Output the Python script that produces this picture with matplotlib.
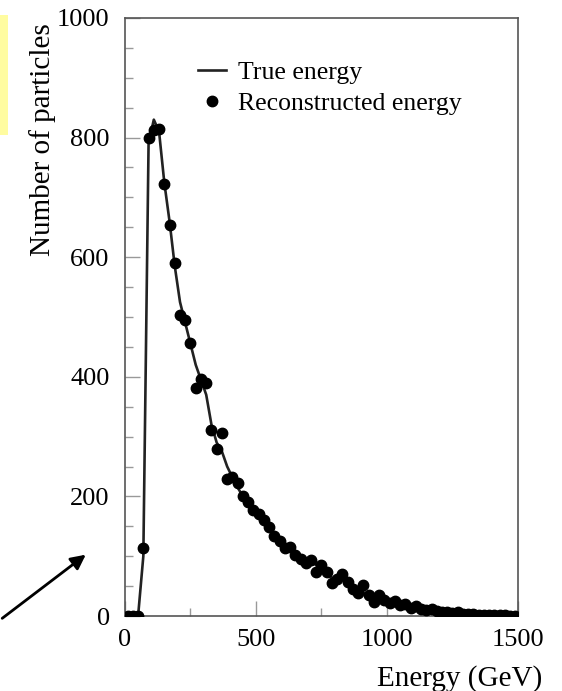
import numpy as np
import matplotlib
matplotlib.use('Agg')
import matplotlib.pyplot as plt
from matplotlib.patches import Rectangle, FancyArrowPatch

plt.rcParams['font.family'] = ['Liberation Serif', 'DejaVu Serif']

# bin centres (GeV), 20 GeV bins
energy = np.arange(10, 1500, 20)

# reconstructed energy (points)
reco = [0, 0, 0, 113, 800, 812, 815, 722, 653, 590,
        503, 495, 457, 382, 397, 389, 311, 279, 306, 229,
        232, 222, 201, 190, 178, 170, 160, 149, 133, 125,
        113, 116, 102, 95, 88, 94, 74, 85, 74, 55,
        62, 71, 57, 46, 38, 52, 35, 24, 35, 27,
        22, 25, 18, 20, 14, 16, 12, 10, 12, 8,
        7, 6, 5, 6, 4, 3, 3, 2, 2, 2,
        1, 1, 1, 0, 0]

# true energy (line)
true = [0, 0, 0, 100, 790, 830, 810, 725, 660, 585,
        525, 490, 455, 420, 395, 370, 320, 290, 275, 250,
        232, 215, 200, 188, 175, 165, 155, 146, 136, 126,
        118, 110, 103, 97, 92, 95, 85, 80, 72, 64,
        58, 62, 55, 48, 42, 40, 34, 30, 28, 26,
        24, 22, 20, 18, 16, 14, 12, 11, 10, 8,
        7, 6, 5, 5, 4, 3, 3, 2, 2, 2,
        1, 1, 1, 0, 0]

fig = plt.figure(figsize=(5.62, 6.91), dpi=100)
ax = fig.add_axes([0.2224, 0.1085, 0.6993, 0.8655])

ax.plot(energy, true, color='#222222', lw=1.9, label='True energy', zorder=2)
ax.plot(energy, reco, 'o', color='black', ms=7.5, label='Reconstructed energy', zorder=3)

ax.set_xlim(0, 1500)
ax.set_ylim(0, 1000)
ax.set_xticks([0, 500, 1000, 1500])
ax.set_xticks(np.arange(0, 1501, 250), minor=True)
ax.set_yticks([0, 200, 400, 600, 800, 1000])
ax.set_yticks(np.arange(0, 1001, 50), minor=True)
ax.tick_params(which='both', direction='in', top=False, right=False, color='#999999', labelsize=19)
ax.tick_params(which='major', length=11, width=1)
ax.tick_params(which='minor', length=6, width=1)
ax.tick_params(axis='y', pad=11)
ax.tick_params(axis='x', pad=9)
for s in ax.spines.values():
    s.set_color('#555555')
    s.set_linewidth(1.2)

ax.set_xlabel('Energy (GeV)', fontsize=21)
ax.xaxis.set_label_coords(0.852, -0.082)
ax.set_ylabel('Number of particles', fontsize=21)
ax.yaxis.set_label_coords(-0.175, 0.796)

ax.legend(loc='upper left', bbox_to_anchor=(0.16, 0.945), frameon=False, fontsize=18.5,
          handlelength=1.1, handletextpad=0.45, labelspacing=0.3, borderaxespad=0)

# yellow box at left edge and arrow
fig.patches.append(Rectangle((0, 1 - 135 / 691), 8 / 562, 120 / 691, transform=fig.transFigure,
                             facecolor='#fffca0', edgecolor='none'))
fig.patches.append(FancyArrowPatch((0, 1 - 620 / 691), (88 / 562, 1 - 553 / 691),
                                   transform=fig.transFigure, arrowstyle='-|>', mutation_scale=22,
                                   color='black', lw=2))

fig.savefig('out.png', dpi=100)
